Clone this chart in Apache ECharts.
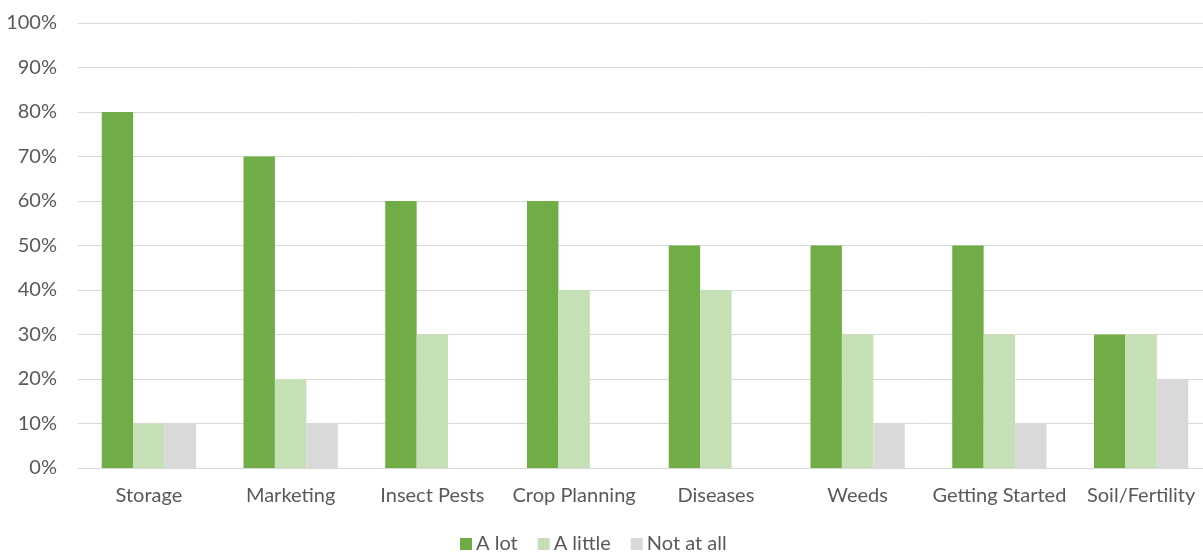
<!DOCTYPE html>
<html>
<head>
<meta charset="utf-8">
<script src="https://cdn.jsdelivr.net/npm/echarts@6/dist/echarts.min.js"></script>
<style>html,body{margin:0;padding:0;background:#fff}#c{width:1203px;height:552px}</style>
</head>
<body>
<div id="c"></div>
<script>
const categories = ['Storage','Marketing','Insect Pests','Crop Planning','Diseases','Weeds','Getting Started','Soil/Fertility'];
const aLot = [80,70,60,60,50,50,50,30];
const aLittle = [10,20,30,40,40,30,30,30];
const notAtAll = [10,10,0,0,0,10,10,20];
const seriesNames = ['A lot','A little','Not at all'];
const colors = ['#70AD47','#C5E0B4','#D9D9D9'];

const font = 'Lato, "Open Sans", sans-serif';
const chart = echarts.init(document.getElementById('c'));
chart.setOption({
  animation: false,
  textStyle: {fontFamily: font},
  grid: {left: 78, width: 1134, top: 23, height: 445, containLabel: false, outerBoundsMode: 'none'},
  legend: {
    top: 534, left: 460, padding: 0,
    itemWidth: 12, itemHeight: 12, itemGap: 20,
    icon: 'rect',
    textStyle: {fontSize: 20, color: '#595959', fontFamily: font, padding: [0,0,0,-1]},
    data: seriesNames
  },
  xAxis: {
    type: 'category', data: categories,
    axisLine: {lineStyle: {color: '#D9D9D9', width: 1}},
    axisTick: {show: false},
    axisLabel: {fontSize: 20, color: '#595959', margin: 18, interval: 0, fontFamily: font}
  },
  yAxis: {
    type: 'value', min: 0, max: 100, interval: 10,
    axisLine: {show: false}, axisTick: {show: false},
    splitLine: {lineStyle: {color: '#D9D9D9', width: 1}},
    axisLabel: {fontSize: 20, color: '#595959', margin: 21, formatter: '{value}%', fontFamily: font}
  },
  series: [aLot, aLittle, notAtAll].map((d, i) => ({
    name: seriesNames[i], type: 'bar', data: d,
    itemStyle: {color: colors[i]},
    barGap: '0%', barCategoryGap: '33.5%'
  }))
});
</script>
</body>
</html>
